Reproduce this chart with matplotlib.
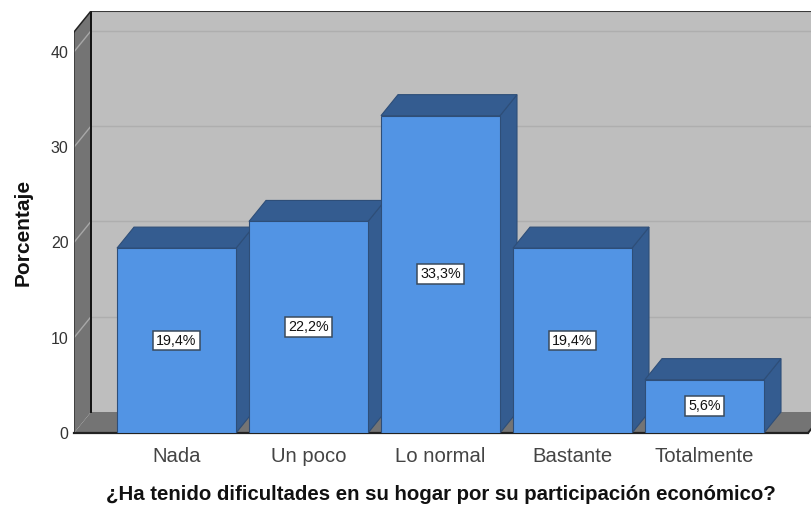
#!/usr/bin/env python3
import matplotlib
import matplotlib.pyplot as plt
from matplotlib.patches import Polygon

matplotlib.use("Agg")

plt.rcParams["font.family"] = ["Liberation Sans", "DejaVu Sans"]

categories = ["Nada", "Un poco", "Lo normal", "Bastante", "Totalmente"]
percent = [19.4, 22.2, 33.3, 19.4, 5.6]
labels = ["19,4%", "22,2%", "33,3%", "19,4%", "5,6%"]
y_ticks = [0, 10, 20, 30, 40]

# Pixel layout of the picture
W, H = 812, 508
PITCH = 132.0
PX_PER_UNIT = 9.53
X0_PX, Y0_PX = 176.5, 433
LEFT_PX, RIGHT_PX, TOP_PX = 74, 812, 11
FRONT_RIGHT_PX = 808

# 3D offset, in data units
DX = 17 / PITCH
DY = 21 / PX_PER_UNIT
BAR_W = 119 / PITCH

FACE = "#5294E4"
SHADE = "#345C90"
EDGE = "#2E4E78"
WALL = "#BEBEBE"
SIDE = "#747474"
GRID = "#AEAEAE"

fig = plt.figure(figsize=(W / 100, H / 100), dpi=100)
ax = fig.add_axes([LEFT_PX / W, 1 - Y0_PX / H, (RIGHT_PX - LEFT_PX) / W, (Y0_PX - TOP_PX) / H])
x_min = (LEFT_PX - X0_PX) / PITCH
x_max = (RIGHT_PX - X0_PX) / PITCH
x_right = (FRONT_RIGHT_PX - X0_PX) / PITCH
y_max = (Y0_PX - TOP_PX) / PX_PER_UNIT
ax.set_xlim(x_min, x_max)
ax.set_ylim(0, y_max)
for s in ax.spines.values():
    s.set_visible(False)

y_top = y_max - DY
back_l = x_min + DX

# back wall, side wall, floor
ax.add_patch(Polygon([(back_l, DY), (x_max + 1, DY), (x_max + 1, y_max), (back_l, y_max)],
                     fc=WALL, ec="none", zorder=1))
ax.add_patch(Polygon([(x_min, 0), (back_l, DY), (back_l, y_max), (x_min, y_top)],
                     fc=SIDE, ec="none", zorder=1))
ax.add_patch(Polygon([(x_min, 0), (x_right, 0), (x_right + DX, DY), (back_l, DY)],
                     fc=SIDE, ec="none", zorder=1))

for t in y_ticks[1:]:
    ax.plot([back_l, x_max], [t + DY, t + DY], color=GRID, lw=1.0, zorder=2)
    ax.plot([x_min, back_l], [t, t + DY], color="#A8A8A8", lw=1.0, zorder=2)
ax.plot([back_l, x_max], [y_top + DY - 0.05, y_top + DY - 0.05], color="#3A3A3A", lw=1.5, zorder=2)
ax.plot([back_l, back_l], [DY, y_max], color="#111111", lw=1.4, zorder=2)
ax.plot([x_min, x_min], [0, y_top], color="#333333", lw=1.1, zorder=2)
ax.plot([x_min, back_l], [y_top, y_max], color="#222222", lw=1.1, zorder=2)
ax.plot([x_min, x_right], [0, 0], color="#222222", lw=1.6, zorder=2, clip_on=False)
ax.plot([x_right, x_max], [0, (x_max - x_right) / DX * DY], color="#222222", lw=1.4, zorder=2)

# bars, left to right so each one covers the side of the previous one
for i, v in enumerate(percent):
    z = 3 + i
    l, r = i - BAR_W / 2, i + BAR_W / 2
    ax.add_patch(Polygon([(r, 0), (r + DX, DY), (r + DX, v + DY), (r, v)],
                         fc=SHADE, ec=EDGE, lw=0.8, zorder=z))
    ax.add_patch(Polygon([(l, v), (r, v), (r + DX, v + DY), (l + DX, v + DY)],
                         fc=SHADE, ec=EDGE, lw=0.8, zorder=z))
    ax.bar(i, v, BAR_W, color=FACE, edgecolor=EDGE, linewidth=0.8, zorder=z + 0.1)

for i, (v, lab) in enumerate(zip(percent, labels)):
    ax.text(i, v / 2, lab, ha="center", va="center", fontsize=10.3, color="#111111", zorder=20,
            bbox=dict(boxstyle="square,pad=0.2", fc="white", ec="#3A4A5C", lw=1.1))

ax.set_yticks(y_ticks)
ax.set_xticks(range(len(categories)))
ax.set_xticklabels(categories, fontsize=14.6, color="#444444")
ax.tick_params(axis="y", length=0, pad=4, labelsize=11.5, labelcolor="#333333")
ax.tick_params(axis="x", length=0, pad=10)

fig.text(441 / W, 1 - 495 / H, "¿Ha tenido dificultades en su hogar por su participación económico?",
         ha="center", va="center", fontsize=14.7, fontweight="bold", color="#111111")
fig.text(23 / W, 1 - 232 / H, "Porcentaje", rotation=90, ha="center", va="center",
         fontsize=15, fontweight="bold", color="#111111")

fig.savefig("out.png", dpi=100)
plt.close(fig)
